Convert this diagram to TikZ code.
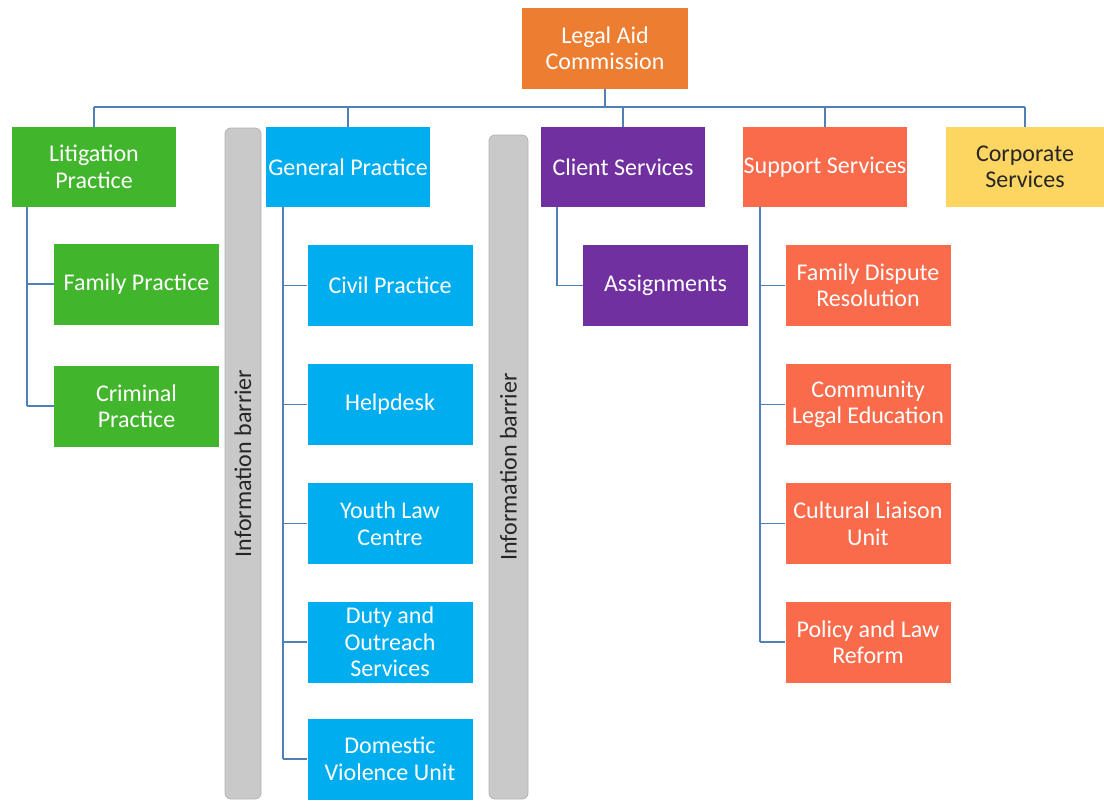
\documentclass[tikz,border=0pt]{standalone}
\usepackage{fontspec}
\setmainfont{Carlito}
\definecolor{lacorange}{HTML}{ED7D31}
\definecolor{litgreen}{HTML}{41B52B}
\definecolor{genblue}{HTML}{00AEEF}
\definecolor{clipurple}{HTML}{7030A0}
\definecolor{supcoral}{HTML}{F96B4B}
\definecolor{corpyellow}{HTML}{FDD561}
\definecolor{bargray}{HTML}{C9C9C9}
\definecolor{barborder}{HTML}{B3B3B3}
\definecolor{linkblue}{HTML}{4E7FB5}
\begin{document}
\begin{tikzpicture}[x=1pt,y=-1pt,
  unit/.style={rectangle, minimum width=164pt, minimum height=80pt, inner sep=0pt,
    align=center, text=white, font=\fontsize{24}{26.5}\selectfont},
  subunit/.style={unit, minimum width=165pt, minimum height=81pt},
  barrier/.style={rectangle, rounded corners=6pt, fill=bargray, draw=barborder, line width=0.8pt,
    rotate=90, inner sep=0pt, font=\fontsize{24}{26.5}\selectfont, text=black!85},
  link/.style={draw=linkblue, line width=1.8pt}]
\useasboundingbox (0,0) rectangle (1104,801);

% information barriers
\node[barrier, minimum width=671pt, minimum height=36pt] (bar1) at (243,463.5) {Information barrier};
\node[barrier, minimum width=664pt, minimum height=39pt] (bar2) at (508.5,467) {Information barrier};

% top level
\node[unit, fill=lacorange, minimum width=166pt, minimum height=81pt] (lac) at (605,48.5) {Legal Aid\\Commission};

% divisions
\node[unit, fill=litgreen] (lit) at (94,167) {Litigation\\Practice};
\node[unit, fill=genblue] (gen) at (348,167) {General Practice};
\node[unit, fill=clipurple] (cli) at (623,167) {Client Services};
\node[unit, fill=supcoral] (sup) at (825,167) {Support Services};
\node[unit, fill=corpyellow, minimum width=158pt, text=black!85] (corp) at (1025,167) {Corporate\\Services};

% litigation units
\node[subunit, fill=litgreen] (fam) at (136.5,284) {Family Practice};
\node[subunit, fill=litgreen] (crim) at (136.5,406) {Criminal\\Practice};

% general practice units
\node[subunit, fill=genblue] (civ) at (390,285.5) {Civil Practice};
\node[subunit, fill=genblue] (help) at (390,404.5) {Helpdesk};
\node[subunit, fill=genblue] (youth) at (390,523.5) {Youth Law\\Centre};
\node[subunit, fill=genblue] (duty) at (390,642) {Duty and\\Outreach\\Services};
\node[subunit, fill=genblue] (dom) at (390,759) {Domestic\\Violence Unit};

% client services units
\node[subunit, fill=clipurple] (asg) at (665.5,285.5) {Assignments};

% support services units
\node[subunit, fill=supcoral] (fdr) at (868,285.5) {Family Dispute\\Resolution};
\node[subunit, fill=supcoral] (cle) at (868,404.5) {Community\\Legal Education};
\node[subunit, fill=supcoral] (cult) at (868,523.5) {Cultural Liaison\\Unit};
\node[subunit, fill=supcoral] (pol) at (868,642) {Policy and Law\\Reform};

% top-level bus
\coordinate (bus) at (605,107);
\draw[link] (lac.south) -- (bus);
\draw[link] (lit.north |- bus) -- (corp.north |- bus);
\foreach \d in {lit,gen,cli,sup,corp}
  \draw[link] (\d.north |- bus) -- (\d.north);

% branch spines
\coordinate (litspine) at (27,0);
\coordinate (genspine) at (283,0);
\coordinate (clispine) at (557,0);
\coordinate (supspine) at (760,0);

\draw[link] (litspine |- lit.south) -- (litspine |- crim.west);
\foreach \c in {fam,crim} \draw[link] (litspine |- \c.west) -- (\c.west);

\draw[link] (genspine |- gen.south) -- (genspine |- dom.west);
\foreach \c in {civ,help,youth,duty,dom} \draw[link] (genspine |- \c.west) -- (\c.west);

\draw[link] (clispine |- cli.south) -- (clispine |- asg.west) -- (asg.west);

\draw[link] (supspine |- sup.south) -- (supspine |- pol.west);
\foreach \c in {fdr,cle,cult,pol} \draw[link] (supspine |- \c.west) -- (\c.west);
\end{tikzpicture}
\end{document}
